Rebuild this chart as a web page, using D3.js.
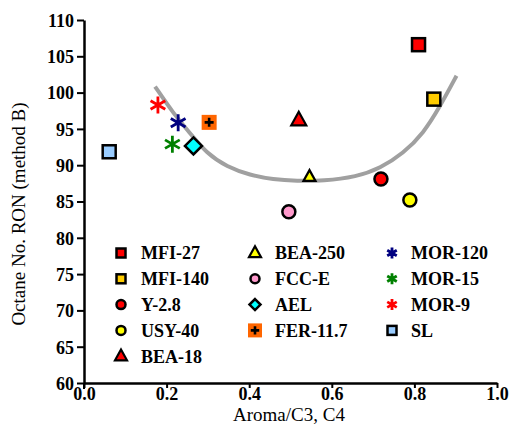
<!DOCTYPE html>
<html><head><meta charset="utf-8">
<script src="https://cdn.jsdelivr.net/npm/d3@7"></script>
<style>body{margin:0;background:#fff}svg{display:block}</style>
</head><body>
<svg id="c" width="512" height="438"></svg>
<script>
const names   = ["MFI-27","MFI-140","Y-2.8","USY-40","BEA-18","BEA-250","FCC-E","AEL","FER-11.7","MOR-120","MOR-15","MOR-9","SL"];
const xValues = [0.810, 0.847, 0.719, 0.789, 0.520, 0.546, 0.496, 0.265, 0.303, 0.228, 0.214, 0.179, 0.061];
const yValues = [106.6, 99.1, 88.1, 85.2, 96.2, 88.4, 83.6, 92.65, 95.9, 95.85, 92.9, 98.3, 91.85];
const shapes  = ["square","square","circle","circle","triangle","triangle","circle","diamond","plusbox","star","star","star","square"];
const fills   = ["#ff0000","#ffcc00","#ff0000","#ffff00","#ff0000","#ffff00","#ff99cc","#00ffff","#ff6600","#000080","#008000","#ff0000","#99ccff"];
const curveX  = [0.172,0.216,0.257,0.297,0.346,0.402,0.458,0.515,0.579,0.660,0.717,0.773,0.822,0.862,0.902];
const curveY  = [100.84,97.16,94.40,91.63,89.78,88.63,88.04,87.84,87.84,88.40,89.56,91.63,94.40,98.08,102.32];
const xTicks  = [0,0.2,0.4,0.6,0.8,1.0];
const yTicks  = [60,65,70,75,80,85,90,95,100,105,110];

const FONT = "Liberation Serif";
const svg = d3.select("#c");
const x = d3.scaleLinear().domain([0,1]).range([84,497]);
const y = d3.scaleLinear().domain([60,110]).range([383,20]);

const gx = svg.append("g").attr("transform","translate(0,383)")
  .call(d3.axisBottom(x).tickValues(xTicks).tickFormat(d3.format(".1f")).tickSize(5).tickSizeOuter(0));
const gy = svg.append("g").attr("transform","translate(84,0)")
  .call(d3.axisLeft(y).tickValues(yTicks).tickSize(7).tickSizeOuter(0));
[gx,gy].forEach(g=>{
  g.attr("font-family",FONT).attr("font-size",18);
  g.select(".domain").attr("stroke","#000").attr("stroke-width",2.5);
  g.selectAll(".tick line").attr("stroke","#000").attr("stroke-width",2);
  g.selectAll(".tick text").attr("fill","#000").attr("font-family",FONT)
    .attr("font-weight","bold").attr("font-size",18);
});
gx.selectAll(".tick text").attr("y",4).attr("dy","0.72em");
gy.selectAll(".tick text").attr("x",-10).attr("dy","0.35em");
svg.append("line").attr("x1",84).attr("x2",84).attr("y1",383).attr("y2",389).attr("stroke","#000").attr("stroke-width",2);

svg.append("text").attr("x",289).attr("y",421).attr("text-anchor","middle")
  .attr("font-family",FONT).attr("font-size",19).text("Aroma/C3, C4");
svg.append("text").attr("transform","translate(25,214) rotate(-90)").attr("text-anchor","middle")
  .attr("font-family",FONT).attr("font-size",19).text("Octane No. RON (method B)");

const pts = curveX.map((v,i)=>[x(v),y(curveY[i])]);
svg.append("path").attr("d",d3.line().curve(d3.curveBasis)(pts))
  .attr("fill","none").attr("stroke","#a0a0a0").attr("stroke-width",4);

function marker(g, shape, fill, s){
  if(shape==="square"){
    g.append("rect").attr("x",-s/2+1).attr("y",-s/2+1).attr("width",s-2).attr("height",s-2)
      .attr("fill",fill).attr("stroke","#000").attr("stroke-width",2.5);
  } else if(shape==="circle"){
    g.append("circle").attr("r",s/2-1).attr("fill",fill).attr("stroke","#000").attr("stroke-width",2.5);
  } else if(shape==="triangle"){
    const h=s*0.9, w=s;
    g.append("path").attr("d",`M0,${-h*0.62}L${w/2},${h*0.38}L${-w/2},${h*0.38}Z`)
      .attr("fill",fill).attr("stroke","#000").attr("stroke-width",2.2);
  } else if(shape==="diamond"){
    const r=s/2;
    g.append("path").attr("d",`M0,${-r}L${r},0L0,${r}L${-r},0Z`)
      .attr("fill",fill).attr("stroke","#000").attr("stroke-width",2.5);
  } else if(shape==="plusbox"){
    g.append("rect").attr("x",-s/2).attr("y",-s/2).attr("width",s).attr("height",s).attr("fill",fill);
    const p=s*0.3;
    g.append("path").attr("d",`M${-p},0H${p}M0,${-p}V${p}`).attr("stroke","#000").attr("stroke-width",2.6);
  } else if(shape==="star"){
    const r=s/2, a=r*Math.cos(Math.PI/6), b=r*0.5;
    g.append("path").attr("d",`M0,${-r}V${r}M${-a},${-b}L${a},${b}M${-a},${b}L${a},${-b}`)
      .attr("stroke",fill).attr("stroke-width",2.8).attr("fill","none");
  }
}

names.forEach((n,i)=>{
  const g = svg.append("g").attr("transform",`translate(${x(xValues[i])},${y(yValues[i])})`);
  const sh = shapes[i];
  const sz = sh==="triangle" ? (n==="BEA-250"?12:15) : sh==="star" ? 17 : sh==="diamond" ? 17 : 15;
  marker(g, sh, fills[i], sz);
});

const colX = [121, 255, 392], txtX = [141, 275, 411];
const colRows = [5,4,4];
let idx=0;
colRows.forEach((nr,c)=>{
  for(let r=0;r<nr;r++,idx++){
    const cy = 253 + r*25.8;
    const g = svg.append("g").attr("transform",`translate(${colX[c]},${cy})`);
    const sh = shapes[idx];
    const sz = sh==="plusbox"?14 : sh==="triangle"?12 : 11;
    marker(g, sh, fills[idx], sz);
    svg.append("text").attr("x",txtX[c]).attr("y",cy).attr("dy","0.36em")
      .attr("font-family",FONT).attr("font-weight","bold").attr("font-size",18).text(names[idx]);
  }
});
</script>
</body></html>
